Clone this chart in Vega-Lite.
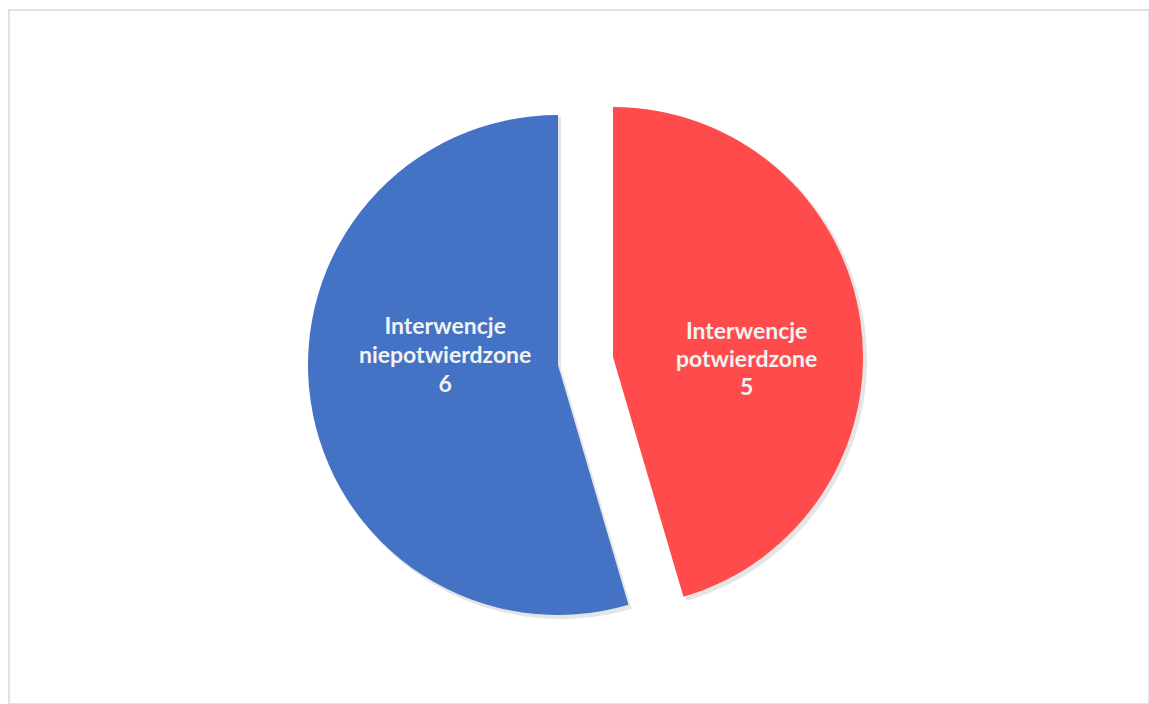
{
  "$schema": "https://vega.github.io/schema/vega-lite/v6.json",
  "width": 1140,
  "height": 694,
  "autosize": "none",
  "padding": {"left": 9, "top": 10, "right": 0, "bottom": 0},
  "background": "white",
  "view": {"stroke": "#d9d9d9", "strokeWidth": 1.5},
  "data": {
    "values": [
      {"kategoria": "Interwencje potwierdzone", "wartosc": 5, "etykieta": "Interwencje\npotwierdzone\n5"},
      {"kategoria": "Interwencje niepotwierdzone", "wartosc": 6, "etykieta": "Interwencje\nniepotwierdzone\n6"}
    ]
  },
  "transform": [
    {"stack": "wartosc", "groupby": [], "as": ["v0", "v1"], "sort": [{"field": "kategoria", "order": "descending"}]}
  ],
  "encoding": {
    "theta": {"field": "v0", "type": "quantitative", "scale": {"domain": [0, 11]}},
    "theta2": {"field": "v1"}
  },
  "layer": [
    {
      "transform": [{"filter": "datum.kategoria === 'Interwencje potwierdzone'"}],
      "mark": {"type": "arc", "outerRadius": 251, "color": "#000000", "opacity": 0.1, "xOffset": 37, "yOffset": 3}
    },
    {
      "transform": [{"filter": "datum.kategoria === 'Interwencje niepotwierdzone'"}],
      "mark": {"type": "arc", "outerRadius": 251, "color": "#000000", "opacity": 0.1, "xOffset": -18, "yOffset": 11}
    },
    {
      "transform": [{"filter": "datum.kategoria === 'Interwencje potwierdzone'"}],
      "mark": {"type": "arc", "outerRadius": 250, "color": "#ff4b4b", "xOffset": 34, "yOffset": 0}
    },
    {
      "transform": [{"filter": "datum.kategoria === 'Interwencje niepotwierdzone'"}],
      "mark": {"type": "arc", "outerRadius": 250, "color": "#4472c4", "xOffset": -21, "yOffset": 8}
    },
    {
      "mark": {"type": "text", "radius": 135, "xOffset": 34, "yOffset": -6, "font": "Lato", "fontWeight": "bold", "fontSize": 23, "lineHeight": 28, "color": "#f2f2f2", "lineBreak": "\n", "align": "center", "baseline": "middle"},
      "encoding": {
        "theta": {"field": "wartosc", "type": "quantitative", "stack": true},
        "theta2": null,
        "order": {"field": "kategoria", "sort": "descending"},
        "text": {"condition": {"test": "datum.kategoria === 'Interwencje potwierdzone'", "field": "etykieta"}, "value": ""}
      }
    },
    {
      "mark": {"type": "text", "radius": 114, "xOffset": -21, "yOffset": -46, "font": "Lato", "fontWeight": "bold", "fontSize": 23, "lineHeight": 29, "color": "#f2f2f2", "lineBreak": "\n", "align": "center", "baseline": "middle"},
      "encoding": {
        "theta": {"field": "wartosc", "type": "quantitative", "stack": true},
        "theta2": null,
        "order": {"field": "kategoria", "sort": "descending"},
        "text": {"condition": {"test": "datum.kategoria === 'Interwencje niepotwierdzone'", "field": "etykieta"}, "value": ""}
      }
    }
  ],
  "resolve": {"scale": {"theta": "shared"}}
}
